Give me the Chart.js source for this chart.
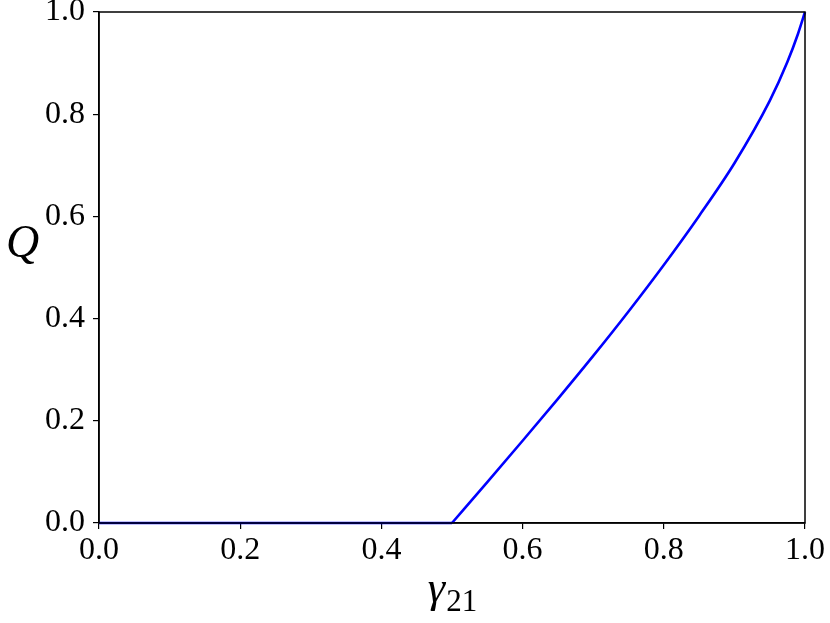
<!DOCTYPE html>
<html>
<head>
<meta charset="utf-8">
<script src="https://cdn.jsdelivr.net/npm/chart.js@4.4.1/dist/chart.umd.min.js"></script>
<style>
  html, body { margin: 0; padding: 0; background: #fff; }
  #wrap { width: 830px; height: 623px; position: relative; }
</style>
</head>
<body>
<div id="wrap"><canvas id="c"></canvas></div>
<script>
// Datos
const gammaFlat = [0.0, 0.5];
const qFlat = [0.0, 0.0];
const gammaCurve = [0.5, 0.55, 0.6, 0.65, 0.7, 0.75, 0.8, 0.85, 0.9, 0.95, 0.975, 0.99, 1.0];
const qCurve = [0.0, 0.080, 0.161, 0.243, 0.327, 0.414, 0.505, 0.601, 0.704, 0.826, 0.902, 0.957, 1.0];
const tickVals = [0.0, 0.2, 0.4, 0.6, 0.8, 1.0];

const serif = "'Liberation Serif', 'DejaVu Serif', serif";
Chart.defaults.color = "#000";
Chart.defaults.font.family = serif;

const toPts = (xs, ys) => xs.map((x, i) => ({ x, y: ys[i] }));

// marco completo + etiquetas de ejes (Q vertical sin rotar, gamma con subindice)
const framePlugin = {
  id: "frame",
  afterDraw(chart) {
    const { ctx, chartArea: a } = chart;
    ctx.save();
    ctx.strokeStyle = "#000";
    ctx.lineWidth = 1.5;
    ctx.strokeRect(a.left, a.top, a.right - a.left, a.bottom - a.top);

    ctx.fillStyle = "#000";
    ctx.textBaseline = "alphabetic";
    ctx.textAlign = "left";

    // eje y
    ctx.font = "italic 46px " + serif;
    ctx.fillText("Q", 6, 257);

    // eje x
    const cx = (a.left + a.right) / 2;
    const base = 602;
    ctx.font = "italic 44px " + serif;
    const gw = ctx.measureText("γ").width;
    ctx.font = "31px " + serif;
    const sw = ctx.measureText("21").width;
    const x0 = cx - (gw + sw) / 2;
    ctx.font = "italic 44px " + serif;
    ctx.fillText("γ", x0, base);
    ctx.font = "31px " + serif;
    ctx.fillText("21", x0 + gw + 1, base + 9);
    ctx.restore();
  }
};

new Chart(document.getElementById("c"), {
  type: "scatter",
  data: {
    datasets: [
      { data: toPts(gammaFlat, qFlat), showLine: true, borderColor: "#0000ff", borderWidth: 2.6, pointRadius: 0, clip: false },
      { data: toPts(gammaCurve, qCurve), showLine: true, borderColor: "#0000ff", borderWidth: 2.6, pointRadius: 0, cubicInterpolationMode: "monotone", clip: false }
    ]
  },
  options: {
    responsive: true,
    maintainAspectRatio: false,
    animation: false,
    layout: { padding: { top: 12, right: 25, left: 0, bottom: 0 } },
    plugins: { legend: { display: false }, tooltip: { enabled: false } },
    scales: {
      x: {
        type: "linear", min: 0, max: 1,
        afterBuildTicks: s => { s.ticks = tickVals.map(v => ({ value: v })); },
        afterFit: s => { s.height = 100; s.paddingLeft = 0; s.paddingRight = 0; },
        grid: { display: true, drawOnChartArea: false, color: "#000", tickLength: 6, lineWidth: 1.2 },
        border: { display: true, color: "#000", width: 1.5 },
        ticks: { font: { size: 32 }, color: "#000", padding: 2, maxRotation: 0, callback: v => v.toFixed(1) },
        title: { display: false }
      },
      y: {
        type: "linear", min: 0, max: 1,
        afterBuildTicks: s => { s.ticks = tickVals.map(v => ({ value: v })); },
        afterFit: s => { s.width = 99; s.paddingTop = 0; s.paddingBottom = 0; },
        grid: { display: true, drawOnChartArea: false, color: "#000", tickLength: 6, lineWidth: 1.2 },
        border: { display: true, color: "#000", width: 1.5 },
        ticks: { font: { size: 32 }, color: "#000", padding: 8, callback: v => v.toFixed(1) },
        title: { display: false }
      }
    }
  },
  plugins: [framePlugin]
});
</script>
</body>
</html>
